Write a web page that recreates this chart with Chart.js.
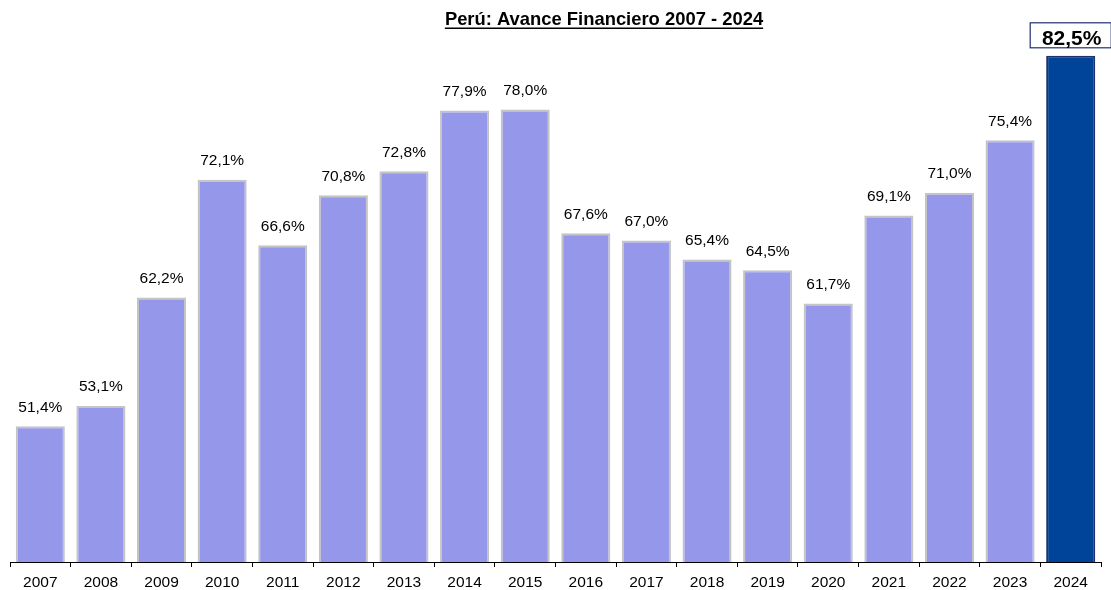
<!DOCTYPE html>
<html><head><meta charset="utf-8">
<script src="https://cdn.jsdelivr.net/npm/chart.js@4"></script>
<style>html,body{margin:0;padding:0;background:#fff}#wrap{width:1111px;height:590px;position:relative}</style>
</head><body><div id="wrap"><canvas id="c" width="1111" height="590"></canvas></div>
<script>
const categories = ['2007','2008','2009','2010','2011','2012','2013','2014','2015','2016','2017','2018','2019','2020','2021','2022','2023','2024'];
const avance = [51.4,53.1,62.2,72.1,66.6,70.8,72.8,77.9,78.0,67.6,67.0,65.4,64.5,61.7,69.1,71.0,75.4,82.5];
const titleText = 'Perú: Avance Financiero 2007 - 2024';

const FONT = '"Liberation Sans", Arial, sans-serif';
const lastIdx = avance.length - 1;
const fills = avance.map((v,i)=> i===lastIdx ? '#00449A' : '#9597EB');
const borders = avance.map((v,i)=> i===lastIdx ? '#1F3070' : '#C4C4C4');
const fmt = v => v.toFixed(1).replace('.', ',') + '%';

const overlay = {
  id: 'overlay',
  afterDraw(chart) {
    const ctx = chart.ctx;
    const meta = chart.getDatasetMeta(0);
    const xs = chart.scales.x;
    ctx.save();
    // title
    ctx.font = 'bold 18.4px ' + FONT;
    ctx.fillStyle = '#000';
    ctx.textAlign = 'center';
    ctx.textBaseline = 'alphabetic';
    const tx = 604, ty = 25;
    ctx.fillText(titleText, tx, ty);
    const tw = ctx.measureText(titleText).width;
    ctx.fillRect(tx - tw/2, ty + 2.5, tw, 1.5);
    // category labels
    ctx.font = '15.5px ' + FONT;
    categories.forEach((c, i) => {
      ctx.fillText(c, xs.getPixelForValue(i), 586.5);
    });
    // value labels
    meta.data.forEach((bar, i) => {
      const v = avance[i];
      if (i === lastIdx) {
        const bw = 82, bh = 26;
        const cx = bar.x, cy = 35.3;
        ctx.fillStyle = '#fff';
        ctx.fillRect(cx - bw/2, cy - bh/2, bw, bh);
        ctx.strokeStyle = '#1F3070';
        ctx.lineWidth = 1.2;
        ctx.strokeRect(cx - bw/2 + 0.5, cy - bh/2 + 0.5, bw - 1, bh - 1);
        ctx.fillStyle = '#000';
        ctx.font = 'bold 21px ' + FONT;
        ctx.fillText(fmt(v), cx + 1, 45);
      } else {
        ctx.fillStyle = '#000';
        ctx.font = '15.5px ' + FONT;
        ctx.fillText(fmt(v), bar.x, bar.y - 14.5);
      }
    });
    ctx.restore();
  }
};

new Chart(document.getElementById('c'), {
  type: 'bar',
  data: {
    labels: categories,
    datasets: [{
      data: avance,
      backgroundColor: fills,
      borderColor: borders,
      borderWidth: 2,
      categoryPercentage: 1,
      barPercentage: 0.81
    }]
  },
  options: {
    responsive: false,
    animation: false,
    devicePixelRatio: 1,
    layout: { padding: { left: 10, right: 10, top: 26, bottom: 23 } },
    plugins: { legend: { display: false }, title: { display: false }, tooltip: { enabled: false } },
    scales: {
      y: { display: false, min: 40, max: 85 },
      x: {
        offset: true,
        border: { display: true, color: '#000', width: 1 },
        grid: { display: true, offset: true, drawOnChartArea: false, drawTicks: true, tickLength: 5, color: '#000' },
        ticks: { display: false, autoSkip: false }
      }
    }
  },
  plugins: [overlay]
});
</script>
</body></html>
